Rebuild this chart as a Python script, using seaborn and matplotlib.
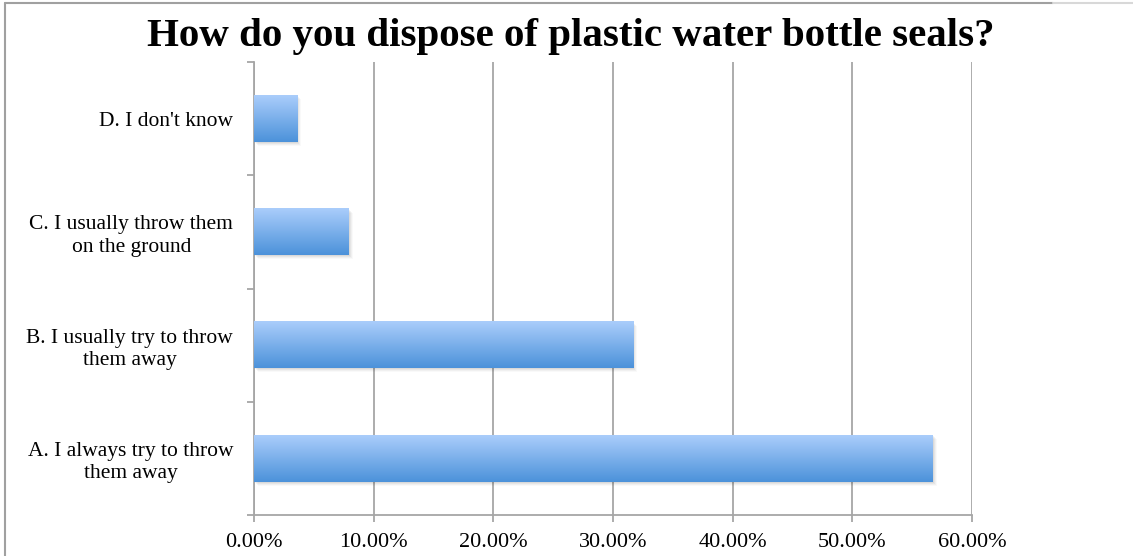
import matplotlib
matplotlib.use("Agg")
import matplotlib.pyplot as plt
import matplotlib.transforms as mtransforms
import numpy as np
import pandas as pd
import seaborn as sns
from matplotlib.lines import Line2D
from matplotlib.patches import Rectangle
from matplotlib.ticker import FuncFormatter

# Survey answers (top to bottom) and their share of respondents, in percent
categories = [
    "D. I don't know",
    "C. I usually throw them\non the ground",
    "B. I usually try to throw\nthem away",
    "A. I always try to throw\nthem away",
]
shares = [3.6, 7.9, 31.7, 56.7]
x_ticks = [0, 10, 20, 30, 40, 50, 60]
title = "How do you dispose of plastic water bottle seals?"

GRID = "#a6a6a6"
TOP_BLUE = np.array([170, 205, 251]) / 255
BOTTOM_BLUE = np.array([76, 146, 218]) / 255

sns.set_theme(style="white")
plt.rcParams["font.family"] = ["Liberation Serif", "DejaVu Serif"]

fig = plt.figure(figsize=(11.33, 5.56), dpi=100)
ax = fig.add_axes([0.2242, 0.0737, 0.6337, 0.8148])

df = pd.DataFrame({"answer": categories, "share": shares})
sns.barplot(data=df, x="share", y="answer", orient="h", width=0.41,
            color="#6fa8e8", ax=ax, zorder=3)

# Replace flat bar fills with a vertical light-to-dark gradient and a soft shadow
grad = np.linspace(0, 1, 64)[:, None, None]
grad_img = TOP_BLUE * (1 - grad) + BOTTOM_BLUE * grad
for bar in list(ax.patches):
    x0, y0 = bar.get_x(), bar.get_y()
    w, h = bar.get_width(), bar.get_height()
    for k, a in ((4, 0.025), (3, 0.035), (2, 0.045), (1, 0.05)):
        off = mtransforms.offset_copy(ax.transData, fig=fig, x=k * 0.72, y=-k * 0.72, units="points")
        ax.add_patch(Rectangle((x0, y0), w, h, transform=off, facecolor="black",
                               alpha=a, edgecolor="none", zorder=2))
    ax.imshow(grad_img, extent=[x0, x0 + w, y0 + h, y0], aspect="auto",
              interpolation="bilinear", zorder=3.5)
    bar.set_facecolor("none")
    bar.set_edgecolor("none")

ax.set_xlim(0, 60)
ax.set_ylim(3.5, -0.5)

ax.set_xticks(x_ticks)
ax.xaxis.set_major_formatter(FuncFormatter(lambda v, _: f"{v:.2f}%"))
ax.xaxis.grid(True, color=GRID, linewidth=1.3)
ax.yaxis.grid(False)
ax.set_axisbelow(True)

ax.set_xlabel("")
ax.set_ylabel("")

ax.set_yticks([-0.5, 0.5, 1.5, 2.5, 3.5], minor=True)
ax.tick_params(axis="y", which="major", left=False, length=0, pad=15,
               labelsize=15.5, labelcolor="black")
ax.tick_params(axis="y", which="minor", left=True, length=5, width=1.3,
               color=GRID, direction="out")
ax.tick_params(axis="x", which="major", bottom=True, length=5, width=1.3,
               color=GRID, direction="out", pad=8, labelsize=16, labelcolor="black")
for lbl in ax.get_yticklabels():
    lbl.set_multialignment("center")
    lbl.set_linespacing(1.25)

for side in ("top", "right"):
    ax.spines[side].set_visible(False)
for side in ("left", "bottom"):
    ax.spines[side].set_color(GRID)
    ax.spines[side].set_linewidth(1.3)

fig.text(0.504, 0.935, title, ha="center", va="center",
         fontsize=29.5, fontweight="bold", color="black")

# Outer frame lines along the left and top edges
fig.add_artist(Line2D([0.0046, 0.0046], [0, 0.9955], transform=fig.transFigure,
                      color="#a0a0a0", linewidth=1.5))
fig.add_artist(Line2D([0.0046, 0.929], [0.9955, 0.9955], transform=fig.transFigure,
                      color="#a0a0a0", linewidth=1.5))
fig.add_artist(Line2D([0.929, 1.0], [0.9955, 0.9955], transform=fig.transFigure,
                      color="#d8d8d8", linewidth=1.5))

fig.savefig("out.png", dpi=100, facecolor="white")
